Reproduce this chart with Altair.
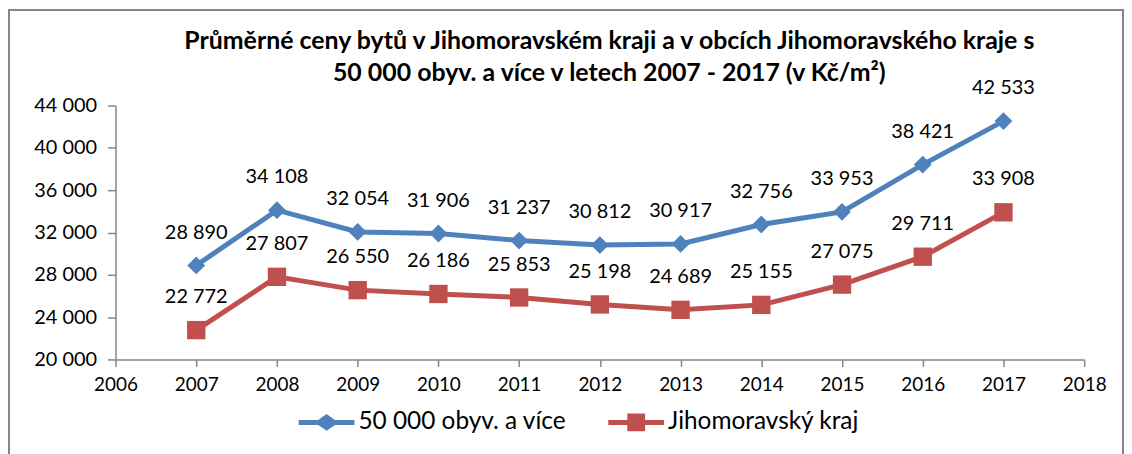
import altair as alt
import pandas as pd

years = [2007, 2008, 2009, 2010, 2011, 2012, 2013, 2014, 2015, 2016, 2017]
big_towns = [28890, 34108, 32054, 31906, 31237, 30812, 30917, 32756, 33953, 38421, 42533]
region = [22772, 27807, 26550, 26186, 25853, 25198, 24689, 25155, 27075, 29711, 33908]
series_names = ["50 000 obyv. a více", "Jihomoravský kraj"]
colors = ["#4F81BD", "#C0504D"]
y_ticks = [20000, 24000, 28000, 32000, 36000, 40000, 44000]
x_ticks = list(range(2006, 2019))
title_lines = [
    "Průměrné ceny bytů v Jihomoravském kraji a v obcích Jihomoravského kraje s",
    "50 000 obyv. a více v letech 2007 - 2017 (v Kč/m²)",
]

def fmt(v):
    return f"{v:,}".replace(",", " ")

rows = []
for name, vals in zip(series_names, [big_towns, region]):
    for y, v in zip(years, vals):
        rows.append({"year": y, "value": v, "series": name, "label": fmt(v)})
df = pd.DataFrame(rows)

FONT = "Lato"
W, H = 973, 255

x_enc = alt.X("year:Q", scale=alt.Scale(domain=[2006, 2018], nice=False),
              axis=alt.Axis(values=x_ticks, format="d", title=None, grid=False,
                            labelFlush=False, labelOverlap=False,
                            domainColor="#868686", domainWidth=1.5, tickColor="#868686",
                            tickWidth=1.5, tickSize=7, labelPadding=9, labelFontSize=19,
                            labelFont=FONT, labelColor="#000000"))
y_enc = alt.Y("value:Q", scale=alt.Scale(domain=[20000, 44000], nice=False),
              axis=alt.Axis(values=y_ticks, title=None, grid=False,
                            labelFlush=False, labelOverlap=False,
                            labelExpr="replace(format(datum.value, ','), ',', ' ')",
                            domainColor="#868686", domainWidth=1.5, tickColor="#868686",
                            tickWidth=1.5, tickSize=8, labelPadding=11, labelFontSize=20,
                            labelFont=FONT, labelColor="#000000"))
color_scale = alt.Scale(domain=series_names, range=colors)

legend_def = alt.Legend(title=None, orient="none", direction="horizontal",
                        legendX=184, legendY=290, symbolSize=3136,
                        symbolOpacity=1, symbolStrokeWidth=0, labelLimit=400,
                        labelFontSize=24.5, labelFont=FONT, labelColor="#000000",
                        columnPadding=42, labelOffset=4)

base = alt.Chart(df)

frame = alt.Chart(pd.DataFrame({"a": [0]})).mark_rect(
    fill=None, stroke="#868686", strokeWidth=2
).encode(x=alt.value(-107), x2=alt.value(W + 39), y=alt.value(-96), y2=alt.value(H + 110))

title_df = pd.DataFrame({"t": title_lines, "line": [0, 1]})
title1 = alt.Chart(title_df).transform_filter(alt.datum.line == 0).mark_text(
    font=FONT, fontSize=25, fontWeight="bold", color="#000000", baseline="middle"
).encode(x=alt.value(496), y=alt.value(-65), text="t:N")
title2 = alt.Chart(title_df).transform_filter(alt.datum.line == 1).mark_text(
    font=FONT, fontSize=25, fontWeight="bold", color="#000000", baseline="middle"
).encode(x=alt.value(496), y=alt.value(-33), text="t:N")

lines = base.mark_line(strokeWidth=5).encode(
    x=x_enc, y=y_enc, color=alt.Color("series:N", scale=color_scale, legend=legend_def),
    detail="series:N")

pts_blue = base.transform_filter(alt.datum.series == series_names[0]).mark_point(
    shape="diamond", filled=True, size=320, opacity=1, color=colors[0]).encode(x="year:Q", y="value:Q")
pts_red = base.transform_filter(alt.datum.series == series_names[1]).mark_square(
    size=340, opacity=1, color=colors[1]).encode(x="year:Q", y="value:Q")

labels = base.mark_text(dy=-33, fontSize=20, font=FONT, color="#000000").encode(
    x="year:Q", y="value:Q", text="label:N")

legend_paths = [
    "M-1,-0.09 L-0.3,-0.09 L0,-0.3 L0.3,-0.09 L1,-0.09 L1,0.09 L0.3,0.09 L0,0.3 L-0.3,0.09 L-1,0.09 Z",
    "M-1,-0.09 L-0.32,-0.09 L-0.32,-0.32 L0.32,-0.32 L0.32,-0.09 L1,-0.09 L1,0.09 L0.32,0.09 L0.32,0.32 L-0.32,0.32 L-0.32,0.09 L-1,0.09 Z",
]
legend_layer = base.transform_filter(alt.datum.year == 2007).mark_point(filled=True, size=10).encode(
    x="year:Q", y="value:Q",
    opacity=alt.value(0),
    color=alt.Color("series:N", scale=color_scale, legend=legend_def),
    shape=alt.Shape("series:N", scale=alt.Scale(domain=series_names, range=legend_paths),
                    legend=legend_def),
)

chart = alt.layer(frame, lines, pts_blue, pts_red, labels, legend_layer, title1, title2).properties(
    width=W, height=H,
    background="#ffffff",
    padding={"left": 108, "top": 97, "right": 40, "bottom": 94},
    autosize=alt.AutoSizeParams(type="none"),
).configure_view(stroke=None)

chart.save("out.html", embed_options={"renderer": "svg", "actions": False})
